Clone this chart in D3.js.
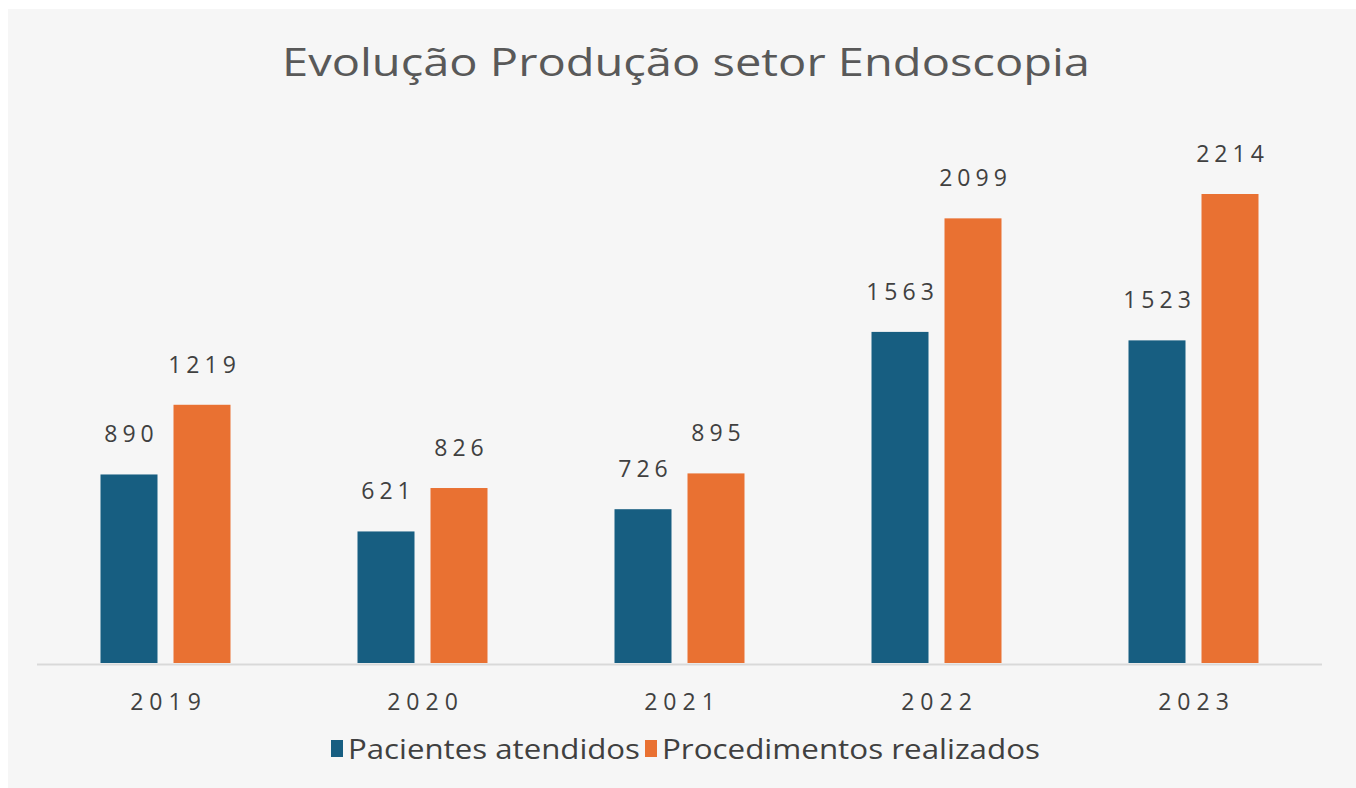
<!DOCTYPE html>
<html>
<head>
<meta charset="utf-8">
<script src="https://cdn.jsdelivr.net/npm/d3@7"></script>
<style>
    body { margin: 0; background: #ffffff; }
    text { font-family: "Open Sans", "DejaVu Sans", sans-serif; }
</style>
</head>
<body>
<div id="chart"></div>
<script>
var years = ["2019", "2020", "2021", "2022", "2023"];
var pacientes = [890, 621, 726, 1563, 1523];
var procedimentos = [1219, 826, 895, 2099, 2214];
var seriesNames = ["Pacientes atendidos", "Procedimentos realizados"];
var palette = ["#175e81", "#e97132"];

var width = 1356;
var height = 788;
var baseline = 663;

var svg = d3.select("#chart").append("svg")
    .attr("width", width)
    .attr("height", height);

// gray panel
svg.append("rect")
    .attr("x", 8)
    .attr("y", 9)
    .attr("width", width - 8)
    .attr("height", height - 9)
    .attr("fill", "#f6f6f6");

svg.append("text")
    .attr("x", 686)
    .attr("y", 76)
    .attr("text-anchor", "middle")
    .style("font-size", "38px")
    .style("fill", "#595959")
    .attr("textLength", 808)
    .attr("lengthAdjust", "spacingAndGlyphs")
    .text("Evolução Produção setor Endoscopia");

var x = d3.scaleBand()
    .domain(years)
    .range([37, 1322]);

var inner = d3.scaleBand()
    .domain(seriesNames)
    .range([0, 130])
    .paddingInner(16 / 73);

var y = d3.scaleLinear()
    .domain([0, 2214])
    .range([baseline, 194]);

var data = years.map(function (yr, i) {
    return { year: yr, values: [pacientes[i], procedimentos[i]] };
});

var groups = svg.selectAll(".group")
    .data(data)
    .enter()
    .append("g")
    .attr("class", "group")
    .attr("transform", d => "translate(" + (x(d.year) + (x.bandwidth() - 130) / 2) + ",0)");

var bars = groups.selectAll(".bar")
    .data(d => d.values.map((v, j) => ({ name: seriesNames[j], value: v, idx: j })))
    .enter();

bars.append("rect")
    .attr("class", "bar")
    .attr("x", d => inner(d.name))
    .attr("y", d => y(d.value))
    .attr("width", inner.bandwidth())
    .attr("height", d => baseline - y(d.value))
    .attr("fill", d => palette[d.idx]);

// value labels (letter-spacing widens them like the original handwriting font)
bars.append("text")
    .attr("x", d => inner(d.name) + inner.bandwidth() / 2)
    .attr("y", d => y(d.value) - 32)
    .attr("dx", 2.5)
    .attr("text-anchor", "middle")
    .style("font-size", "23px")
    .style("fill", "#404040")
    .style("letter-spacing", "5px")
    .text(d => d.value);

// axis line
svg.append("line")
    .attr("x1", 37)
    .attr("x2", 1322)
    .attr("y1", baseline + 1.5)
    .attr("y2", baseline + 1.5)
    .attr("stroke", "#d9d9d9")
    .attr("stroke-width", 2);

svg.selectAll(".year")
    .data(years)
    .enter()
    .append("text")
    .attr("class", "year")
    .attr("x", d => x(d) + x.bandwidth() / 2)
    .attr("y", 710)
    .attr("dx", 3)
    .attr("text-anchor", "middle")
    .style("font-size", "23px")
    .style("fill", "#404040")
    .style("letter-spacing", "6px")
    .text(d => d);

// legend
var legendWidths = [292, 378];
var legend = svg.append("g").attr("class", "legend");
var lx = 331;
seriesNames.forEach(function (name, i) {
    legend.append("rect")
        .attr("x", lx)
        .attr("y", 740)
        .attr("width", 12)
        .attr("height", 17)
        .attr("fill", palette[i]);
    legend.append("text")
        .attr("x", lx + 17)
        .attr("y", 759)
        .style("font-size", "27px")
        .style("fill", "#404040")
        .attr("textLength", legendWidths[i])
        .attr("lengthAdjust", "spacingAndGlyphs")
        .text(name);
    lx += 17 + legendWidths[i] + 5;
});
</script>
</body>
</html>
